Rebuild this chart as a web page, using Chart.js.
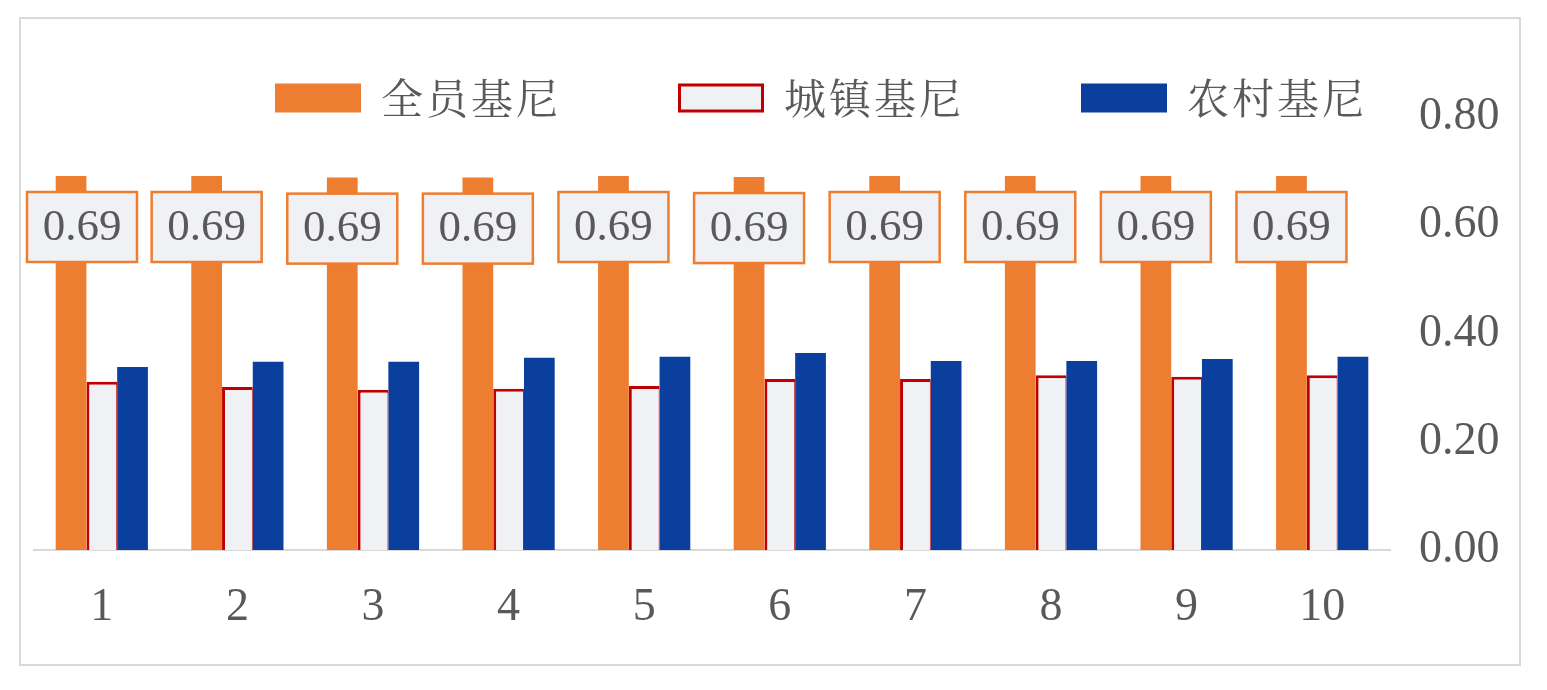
<!DOCTYPE html>
<html>
<head>
<meta charset="utf-8">
<script src="https://cdn.jsdelivr.net/npm/chart.js@4.4.1/dist/chart.umd.min.js"></script>
<style>
  html, body { margin: 0; padding: 0; background: #ffffff; }
  #wrap { position: relative; width: 1547px; height: 690px; }
</style>
</head>
<body>
<div id="wrap"><canvas id="c" width="1547" height="690"></canvas></div>
<script>
// ---- data ----
const categories = ['1', '2', '3', '4', '5', '6', '7', '8', '9', '10'];
const seriesNames = ['全员基尼', '城镇基尼', '农村基尼'];
const fullGini  = [0.691, 0.691, 0.688, 0.688, 0.691, 0.689, 0.691, 0.691, 0.691, 0.691];
const urbanGini = [0.311, 0.301, 0.296, 0.298, 0.303, 0.316, 0.316, 0.323, 0.320, 0.323];
const ruralGini = [0.338, 0.348, 0.348, 0.355, 0.357, 0.364, 0.349, 0.349, 0.353, 0.357];
const yTicks = [0, 0.2, 0.4, 0.6, 0.8];

const ORANGE = '#ED7D31';
const BLUE = '#0B3F9E';
const RED = '#C00000';
const LIGHT = '#F0F1F4';
const TEXT = '#595959';
const SERIF = '"Liberation Serif", "Times New Roman", serif';
const CJK = '"Noto Serif CJK SC", "Noto Sans CJK SC", sans-serif';

// outer frame
const framePlugin = {
  id: 'frame',
  beforeDraw(chart) {
    const ctx = chart.ctx;
    ctx.save();
    ctx.fillStyle = '#ffffff';
    ctx.fillRect(0, 0, chart.width, chart.height);
    ctx.strokeStyle = '#D9D9D9';
    ctx.lineWidth = 2;
    ctx.strokeRect(20, 18, 1500, 647);
    ctx.restore();
  }
};

// value labels on the first series
const valueLabelPlugin = {
  id: 'valueLabels',
  afterDatasetsDraw(chart) {
    const ctx = chart.ctx;
    const meta = chart.getDatasetMeta(0);
    const data = chart.data.datasets[0].data;
    const w = 110, h = 70;
    ctx.save();
    meta.data.forEach((bar, i) => {
      let left = bar.x - w / 2;
      if (left < 27) left = 27;
      const top = bar.y + 16;
      ctx.fillStyle = LIGHT;
      ctx.fillRect(left, top, w, h);
      ctx.strokeStyle = ORANGE;
      ctx.lineWidth = 2.5;
      ctx.strokeRect(left, top, w, h);
      ctx.fillStyle = TEXT;
      ctx.font = '45px ' + SERIF;
      ctx.textAlign = 'center';
      ctx.textBaseline = 'middle';
      ctx.fillText(data[i].toFixed(2), left + w / 2, top + h / 2 + 1);
    });
    ctx.restore();
  }
};

// legend
const legendPlugin = {
  id: 'customLegend',
  afterDraw(chart) {
    const ctx = chart.ctx;
    const startX = 275, step = 403, boxW = 86, boxH = 29, cy = 98;
    ctx.save();
    chart.data.datasets.forEach((ds, i) => {
      const x = startX + step * i;
      ctx.fillStyle = ds.backgroundColor;
      ctx.fillRect(x, cy - boxH / 2, boxW, boxH);
      if (ds.label === seriesNames[1]) {
        ctx.strokeStyle = ds.borderColor;
        ctx.lineWidth = 3;
        ctx.strokeRect(x + 1.5, cy - boxH / 2 + 1.5, boxW - 3, boxH - 3);
      }
      ctx.fillStyle = TEXT;
      ctx.font = '42px ' + CJK;
      ctx.textAlign = 'left';
      ctx.textBaseline = 'middle';
      let tx = x + boxW + 20;
      for (const ch of ds.label) {
        ctx.fillText(ch, tx, cy);
        tx += 45;
      }
    });
    ctx.restore();
  }
};

new Chart(document.getElementById('c'), {
  type: 'bar',
  data: {
    labels: categories,
    datasets: [
      { label: seriesNames[0], data: fullGini, backgroundColor: ORANGE, borderWidth: 0 },
      { label: seriesNames[1], data: urbanGini, backgroundColor: LIGHT, borderColor: RED,
        borderWidth: { left: 3, top: 3, right: 1, bottom: 0 }, borderSkipped: 'start' },
      { label: seriesNames[2], data: ruralGini, backgroundColor: BLUE, borderWidth: 0 }
    ]
  },
  options: {
    responsive: false,
    animation: false,
    devicePixelRatio: 1,
    layout: { padding: { left: 34, top: 117, right: 27, bottom: 0 } },
    datasets: { bar: { categoryPercentage: 0.68, barPercentage: 1.0 } },
    plugins: {
      legend: { display: false },
      tooltip: { enabled: false },
      title: { display: false }
    },
    scales: {
      x: {
        grid: { display: false, drawTicks: false },
        border: { display: true, color: '#D9D9D9', width: 2 },
        ticks: { color: TEXT, font: { family: SERIF, size: 46 }, padding: 30, maxRotation: 0 },
        afterFit(scale) { scale.height = 140; }
      },
      y: {
        position: 'right',
        min: 0,
        max: 0.8,
        grid: { display: false, drawTicks: false },
        border: { display: false },
        afterBuildTicks(scale) { scale.ticks = yTicks.map(v => ({ value: v })); },
        ticks: {
          color: TEXT,
          font: { family: SERIF, size: 46 },
          padding: 29,
          callback: v => Number(v).toFixed(2)
        },
        afterFit(scale) { scale.width = 130; }
      }
    }
  },
  plugins: [framePlugin, valueLabelPlugin, legendPlugin]
});
</script>
</body>
</html>
